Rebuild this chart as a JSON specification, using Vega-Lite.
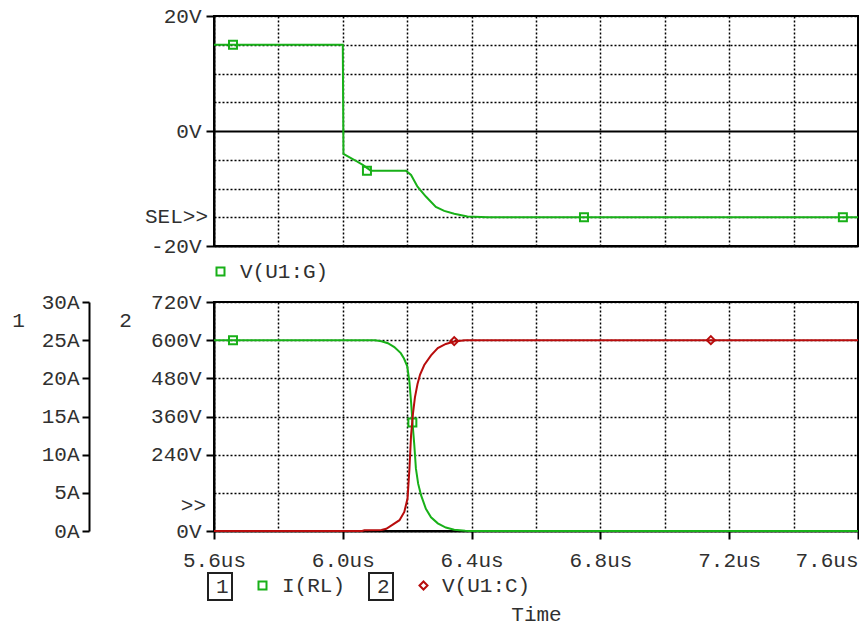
{
  "$schema": "https://vega.github.io/schema/vega-lite/v6.json",
  "background": "white",
  "padding": {"left": 10, "top": 4, "right": 0, "bottom": 0},
  "bounds": "flush",
  "spacing": 56,
  "datasets": {
    "gate": [
      {"trace": "V(U1:G)", "t": 5.6, "v": 15},
      {"trace": "V(U1:G)", "t": 6.0, "v": 15},
      {"trace": "V(U1:G)", "t": 6.002, "v": -4.0},
      {"trace": "V(U1:G)", "t": 6.035, "v": -5.0},
      {"trace": "V(U1:G)", "t": 6.062, "v": -5.9},
      {"trace": "V(U1:G)", "t": 6.087, "v": -6.9},
      {"trace": "V(U1:G)", "t": 6.196, "v": -6.9},
      {"trace": "V(U1:G)", "t": 6.212, "v": -7.65},
      {"trace": "V(U1:G)", "t": 6.232, "v": -9.7},
      {"trace": "V(U1:G)", "t": 6.258, "v": -11.4},
      {"trace": "V(U1:G)", "t": 6.289, "v": -13.2},
      {"trace": "V(U1:G)", "t": 6.315, "v": -13.9},
      {"trace": "V(U1:G)", "t": 6.346, "v": -14.4},
      {"trace": "V(U1:G)", "t": 6.387, "v": -14.85},
      {"trace": "V(U1:G)", "t": 6.45, "v": -15.0},
      {"trace": "V(U1:G)", "t": 7.6, "v": -15.0}
    ],
    "gateMarks": [
      {"trace": "V(U1:G)", "t": 5.659, "v": 15},
      {"trace": "V(U1:G)", "t": 6.075, "v": -6.9},
      {"trace": "V(U1:G)", "t": 6.749, "v": -15},
      {"trace": "V(U1:G)", "t": 7.553, "v": -15}
    ],
    "current": [
      {"trace": "I(RL)", "axis": "1", "t": 5.6, "i": 25},
      {"trace": "I(RL)", "axis": "1", "t": 6.1, "i": 25},
      {"trace": "I(RL)", "axis": "1", "t": 6.12, "i": 24.85},
      {"trace": "I(RL)", "axis": "1", "t": 6.14, "i": 24.6},
      {"trace": "I(RL)", "axis": "1", "t": 6.16, "i": 24.1},
      {"trace": "I(RL)", "axis": "1", "t": 6.18, "i": 23.3},
      {"trace": "I(RL)", "axis": "1", "t": 6.19, "i": 22.6},
      {"trace": "I(RL)", "axis": "1", "t": 6.2, "i": 21.6},
      {"trace": "I(RL)", "axis": "1", "t": 6.207, "i": 19.5},
      {"trace": "I(RL)", "axis": "1", "t": 6.212, "i": 16.9},
      {"trace": "I(RL)", "axis": "1", "t": 6.217, "i": 13.9},
      {"trace": "I(RL)", "axis": "1", "t": 6.222, "i": 11.3},
      {"trace": "I(RL)", "axis": "1", "t": 6.227, "i": 8.2},
      {"trace": "I(RL)", "axis": "1", "t": 6.234, "i": 6.2},
      {"trace": "I(RL)", "axis": "1", "t": 6.243, "i": 4.7},
      {"trace": "I(RL)", "axis": "1", "t": 6.258, "i": 2.9},
      {"trace": "I(RL)", "axis": "1", "t": 6.274, "i": 1.8},
      {"trace": "I(RL)", "axis": "1", "t": 6.295, "i": 1.0},
      {"trace": "I(RL)", "axis": "1", "t": 6.32, "i": 0.45},
      {"trace": "I(RL)", "axis": "1", "t": 6.346, "i": 0.17},
      {"trace": "I(RL)", "axis": "1", "t": 6.38, "i": 0.02},
      {"trace": "I(RL)", "axis": "1", "t": 6.39, "i": 0},
      {"trace": "I(RL)", "axis": "1", "t": 7.6, "i": 0}
    ],
    "currentMarks": [
      {"trace": "I(RL)", "t": 5.659, "i": 25},
      {"trace": "I(RL)", "t": 6.216, "i": 14.2}
    ],
    "vce": [
      {"trace": "V(U1:C)", "axis": "2", "t": 5.6, "v": 0},
      {"trace": "V(U1:C)", "axis": "2", "t": 6.06, "v": 0},
      {"trace": "V(U1:C)", "axis": "2", "t": 6.067, "v": 2},
      {"trace": "V(U1:C)", "axis": "2", "t": 6.12, "v": 3},
      {"trace": "V(U1:C)", "axis": "2", "t": 6.135, "v": 7},
      {"trace": "V(U1:C)", "axis": "2", "t": 6.155, "v": 20},
      {"trace": "V(U1:C)", "axis": "2", "t": 6.176, "v": 34},
      {"trace": "V(U1:C)", "axis": "2", "t": 6.191, "v": 60},
      {"trace": "V(U1:C)", "axis": "2", "t": 6.201, "v": 102},
      {"trace": "V(U1:C)", "axis": "2", "t": 6.207, "v": 196},
      {"trace": "V(U1:C)", "axis": "2", "t": 6.212, "v": 301},
      {"trace": "V(U1:C)", "axis": "2", "t": 6.218, "v": 370},
      {"trace": "V(U1:C)", "axis": "2", "t": 6.224, "v": 420},
      {"trace": "V(U1:C)", "axis": "2", "t": 6.232, "v": 462},
      {"trace": "V(U1:C)", "axis": "2", "t": 6.24, "v": 492},
      {"trace": "V(U1:C)", "axis": "2", "t": 6.253, "v": 522},
      {"trace": "V(U1:C)", "axis": "2", "t": 6.274, "v": 552},
      {"trace": "V(U1:C)", "axis": "2", "t": 6.295, "v": 575},
      {"trace": "V(U1:C)", "axis": "2", "t": 6.32, "v": 588},
      {"trace": "V(U1:C)", "axis": "2", "t": 6.346, "v": 596},
      {"trace": "V(U1:C)", "axis": "2", "t": 6.38, "v": 600},
      {"trace": "V(U1:C)", "axis": "2", "t": 7.6, "v": 600}
    ],
    "vceMarks": [
      {"trace": "V(U1:C)", "t": 6.346, "v": 597},
      {"trace": "V(U1:C)", "t": 7.143, "v": 600}
    ]
  },
  "vconcat": [
    {
      "width": 644,
      "height": 230,
      "layer": [
        {
          "data": {"name": "gate"},
          "mark": {"type": "line", "strokeWidth": 2},
          "encoding": {
            "x": {
              "field": "t", "type": "quantitative",
              "scale": {"domain": [5.6, 7.6], "nice": false, "zero": false},
              "axis": {"values": [5.6, 5.8, 6.0, 6.2, 6.4, 6.6, 6.8, 7.0, 7.2, 7.4, 7.6], "tickCount": 40, "labels": false, "ticks": false, "title": null, "grid": true}
            },
            "y": {
              "field": "v", "type": "quantitative",
              "scale": {"domain": [-20, 20], "nice": false, "zero": false},
              "axis": {
                "values": [-20, -15, -10, -5, 0, 5, 10, 15, 20],
                "tickCount": 40,
                "title": null,
                "labelExpr": "datum.value % 20 == 0 ? datum.value + 'V' : ''",
                "labelOverlap": false,
                "tickOpacity": {"condition": {"test": "datum.value % 20 == 0", "value": 1}, "value": 0},
                "gridDash": {"condition": {"test": "datum.value == 0", "value": []}, "value": [2, 2]},
                "gridWidth": {"condition": {"test": "datum.value == 0", "value": 2}, "value": 1.5},
                "labelPadding": 5
              }
            },
            "color": {
              "field": "trace", "type": "nominal",
              "scale": {"range": ["#18b018"]},
              "legend": {"orient": "none", "legendX": -4, "legendY": 245, "title": null, "symbolType": "square", "symbolSize": 64, "symbolStrokeWidth": 2, "symbolFillColor": "transparent", "labelOffset": 9}
            }
          }
        },
        {
          "data": {"name": "gateMarks"},
          "mark": {"type": "point", "shape": "square", "filled": false, "size": 64, "strokeWidth": 2, "opacity": 1},
          "encoding": {
            "x": {"field": "t", "type": "quantitative"},
            "y": {"field": "v", "type": "quantitative"},
            "color": {"field": "trace", "type": "nominal"}
          }
        },
        {
          "data": {"values": [{}]},
          "mark": {"type": "text", "align": "right", "baseline": "middle", "dx": -6, "font": "Liberation Mono", "fontSize": 21, "color": "#303030"},
          "encoding": {"x": {"datum": 5.6}, "y": {"datum": -15}, "text": {"value": "SEL>>"}}
        }
      ]
    },
    {
      "width": 644,
      "height": 229,
      "layer": [
        {
          "layer": [
            {
              "data": {"name": "current"},
              "mark": {"type": "line", "strokeWidth": 2},
              "encoding": {
                "x": {
                  "field": "t", "type": "quantitative",
                  "scale": {"domain": [5.6, 7.6], "nice": false, "zero": false},
                  "axis": {
                    "values": [5.6, 5.8, 6.0, 6.2, 6.4, 6.6, 6.8, 7.0, 7.2, 7.4, 7.6],
                    "tickCount": 40,
                    "title": "Time",
                    "titlePadding": 33,
                    "labelExpr": "round(datum.value * 10) % 4 == 0 ? format(datum.value, '.1f') + 'us' : ''",
                    "labelFlush": false,
                    "labelOverlap": false,
                    "labelPadding": 10,
                    "labelAlign": {"condition": {"test": "datum.value > 7.5", "value": "right"}, "value": "center"},
                    "tickOpacity": {"condition": {"test": "round(datum.value * 10) % 4 == 0", "value": 1}, "value": 0},
                    "grid": true
                  }
                },
                "y": {
                  "field": "i", "type": "quantitative",
                  "scale": {"domain": [0, 30], "nice": false, "zero": false},
                  "axis": {
                    "orient": "left", "offset": 125,
                    "values": [0, 5, 10, 15, 20, 25, 30],
                    "tickCount": 40,
                    "labelExpr": "datum.value + 'A'",
                    "labelOverlap": false,
                    "grid": false,
                    "tickSize": 7,
                    "labelPadding": 3,
                    "title": "1", "titleAngle": 0, "titleX": -71, "titleY": 18,
                    "titleAlign": "center", "titleBaseline": "middle"
                  }
                },
                "color": {
                  "field": "trace", "type": "nominal",
                  "scale": {"range": ["#18b018"]},
                  "legend": {"orient": "none", "legendX": 38, "legendY": 273, "title": null, "symbolType": "square", "symbolSize": 64, "symbolStrokeWidth": 2, "symbolFillColor": "transparent", "labelOffset": 9}
                },
                "opacity": {
                  "field": "axis", "type": "ordinal",
                  "scale": {"range": [1]},
                  "legend": {"orient": "none", "legendX": -6, "legendY": 271, "title": null, "symbolType": "circle", "symbolOpacity": 0, "symbolSize": 1, "symbolStrokeWidth": 0, "labelOffset": -16, "padding": 3, "strokeColor": "#202020"}
                }
              }
            },
            {
              "data": {"name": "currentMarks"},
              "mark": {"type": "point", "shape": "square", "filled": false, "size": 64, "strokeWidth": 2, "opacity": 1},
              "encoding": {
                "x": {"field": "t", "type": "quantitative"},
                "y": {"field": "i", "type": "quantitative"},
                "color": {"field": "trace", "type": "nominal"}
              }
            }
          ]
        },
        {
          "layer": [
            {
              "data": {"name": "vce"},
              "mark": {"type": "line", "strokeWidth": 2},
              "encoding": {
                "x": {"field": "t", "type": "quantitative"},
                "y": {
                  "field": "v", "type": "quantitative",
                  "scale": {"domain": [0, 720], "nice": false, "zero": false},
                  "axis": {
                    "orient": "left",
                    "values": [0, 120, 240, 360, 480, 600, 720],
                    "tickCount": 40,
                    "labelExpr": "datum.value == 120 ? '' : datum.value + 'V'",
                    "labelOverlap": false,
                    "tickOpacity": {"condition": {"test": "datum.value == 120", "value": 0}, "value": 1},
                    "grid": true,
                    "labelPadding": 5,
                    "title": "2", "titleAngle": 0, "titleX": -89, "titleY": 18,
                    "titleAlign": "center", "titleBaseline": "middle"
                  }
                },
                "color": {
                  "field": "trace", "type": "nominal",
                  "scale": {"range": ["#b80c0c"]},
                  "legend": {"orient": "none", "legendX": 199, "legendY": 273, "title": null, "symbolType": "diamond", "symbolSize": 64, "symbolStrokeWidth": 2, "symbolFillColor": "transparent", "labelOffset": 8}
                },
                "opacity": {
                  "field": "axis", "type": "ordinal",
                  "scale": {"range": [1]},
                  "legend": {"orient": "none", "legendX": 155, "legendY": 271, "title": null, "symbolType": "circle", "symbolOpacity": 0, "symbolSize": 1, "symbolStrokeWidth": 0, "labelOffset": -16, "padding": 3, "strokeColor": "#202020"}
                }
              }
            },
            {
              "data": {"name": "vceMarks"},
              "mark": {"type": "point", "shape": "diamond", "filled": false, "size": 64, "strokeWidth": 2, "opacity": 1},
              "encoding": {
                "x": {"field": "t", "type": "quantitative"},
                "y": {"field": "v", "type": "quantitative"},
                "color": {"field": "trace", "type": "nominal"}
              }
            },
            {
              "data": {"values": [{}]},
              "mark": {"type": "text", "align": "right", "baseline": "middle", "dx": -8, "font": "Liberation Mono", "fontSize": 21, "color": "#303030"},
              "encoding": {"x": {"datum": 5.6}, "y": {"datum": 80}, "text": {"value": ">>"}}
            }
          ]
        }
      ],
      "resolve": {
        "scale": {"y": "independent", "color": "independent", "opacity": "independent"},
        "axis": {"y": "independent"},
        "legend": {"color": "independent", "opacity": "independent"}
      }
    }
  ],
  "resolve": {
    "scale": {"x": "independent", "y": "independent", "color": "independent", "opacity": "independent"},
    "legend": {"color": "independent", "opacity": "independent"}
  },
  "config": {
    "view": {"stroke": "#000000", "strokeWidth": 2},
    "axis": {
      "labelFont": "Liberation Mono", "labelFontSize": 21, "labelColor": "#303030",
      "titleFont": "Liberation Mono", "titleFontSize": 21, "titleFontWeight": "normal", "titleColor": "#303030",
      "domainColor": "#000000", "domainWidth": 2,
      "tickColor": "#000000", "tickWidth": 2, "tickSize": 8,
      "gridColor": "#000000", "gridWidth": 1.5, "gridDash": [2, 2], "gridOpacity": 1
    },
    "legend": {
      "labelFont": "Liberation Mono", "labelFontSize": 21, "labelColor": "#303030",
      "padding": 0, "strokeWidth": 2
    }
  }
}
